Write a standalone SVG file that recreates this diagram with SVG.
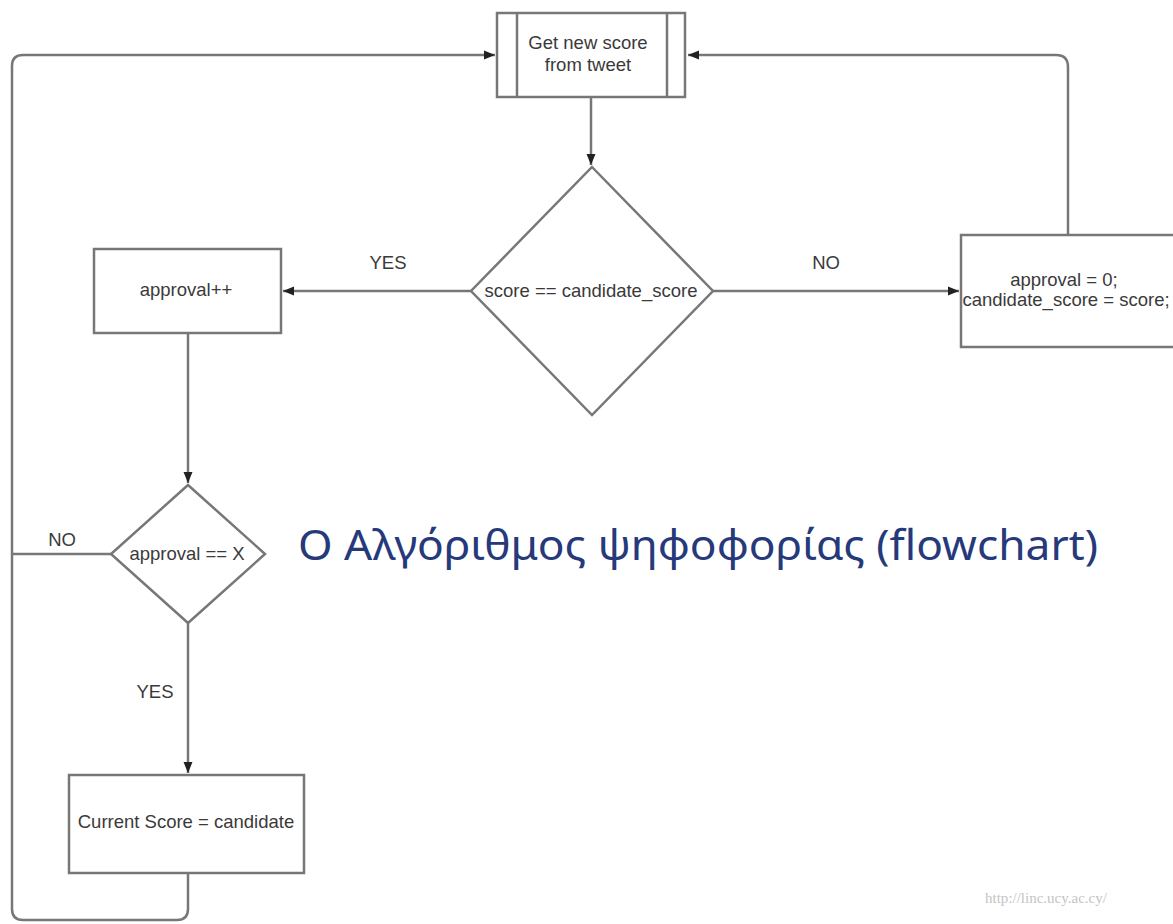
<svg xmlns="http://www.w3.org/2000/svg" width="1173" height="924" viewBox="0 0 1173 924">
<defs>
<marker id="arr" markerUnits="userSpaceOnUse" markerWidth="12" markerHeight="10" refX="11" refY="5" orient="auto">
<path d="M0,0.5 L11,5 L0,9.5 Z" fill="#222"/>
</marker>
<style>
.box{fill:#fff;stroke:#777;stroke-width:2.5}
.con{fill:none;stroke:#777;stroke-width:2.5}
.t{font-family:"Liberation Sans",Arial,sans-serif;font-size:18.5px;fill:#3a3a3a;text-anchor:middle}
.lbl{font-family:"Liberation Sans",Arial,sans-serif;font-size:18.5px;fill:#3a3a3a;text-anchor:middle}
</style>
</defs>
<rect width="1173" height="924" fill="#fff"/>
<g id="connectors">
<path class="con" d="M591,97 V165" marker-end="url(#arr)"/>
<path class="con" d="M471,291 H283" marker-end="url(#arr)"/>
<path class="con" d="M713,291 H959" marker-end="url(#arr)"/>
<path class="con" d="M1068,235 V67 Q1068,55 1056,55 H688" marker-end="url(#arr)"/>
<path class="con" d="M188,333 V483" marker-end="url(#arr)"/>
<path class="con" d="M111,554 H12"/>
<path class="con" d="M188,623 V773" marker-end="url(#arr)"/>
<path class="con" d="M188,873 V909 Q188,920 177,920 H23 Q12,920 12,909 V66 Q12,55 23,55 H495" marker-end="url(#arr)"/>
<text class="lbl" x="388" y="269">YES</text>
<text class="lbl" x="826" y="269">NO</text>
<text class="lbl" x="62" y="546">NO</text>
<text class="lbl" x="155" y="698">YES</text>
</g>
<g id="get-score">
<rect class="box" x="497" y="13" width="188" height="84"/>
<line class="con" x1="517" y1="13" x2="517" y2="97"/>
<line class="con" x1="667" y1="13" x2="667" y2="97"/>
<text class="t" x="588" y="49">Get new score</text>
<text class="t" x="588" y="71">from tweet</text>
</g>
<g id="decision-score">
<path class="box" d="M592,167 L713,291 L592,415 L471,291 Z"/>
<text class="t" x="591" y="297">score == candidate_score</text>
</g>
<g id="approval-inc">
<rect class="box" x="94" y="249" width="187" height="84"/>
<text class="t" x="186" y="296">approval++</text>
</g>
<g id="reset">
<rect class="box" x="961" y="235" width="230" height="112"/>
<text class="t" x="1064" y="286">approval = 0;</text>
<text class="t" x="1066" y="306">candidate_score = score;</text>
</g>
<g id="decision-approval">
<path class="box" d="M188,485 L265,554 L188,623 L111,554 Z"/>
<text class="t" x="187" y="560">approval == X</text>
</g>
<g id="current-score">
<rect class="box" x="69" y="775" width="235" height="98"/>
<text class="t" x="186" y="828">Current Score = candidate</text>
</g>
<text x="298" y="560" textLength="800" lengthAdjust="spacingAndGlyphs" font-family="'Noto Sans','DejaVu Sans',sans-serif" font-size="41" fill="#26397a">Ο Αλγόριθμος ψηφοφορίας (flowchart)</text>
<text x="985" y="903" font-family="'Liberation Serif','Times New Roman',serif" font-size="15" fill="#c4c4c4">http://linc.ucy.ac.cy/</text>
</svg>
